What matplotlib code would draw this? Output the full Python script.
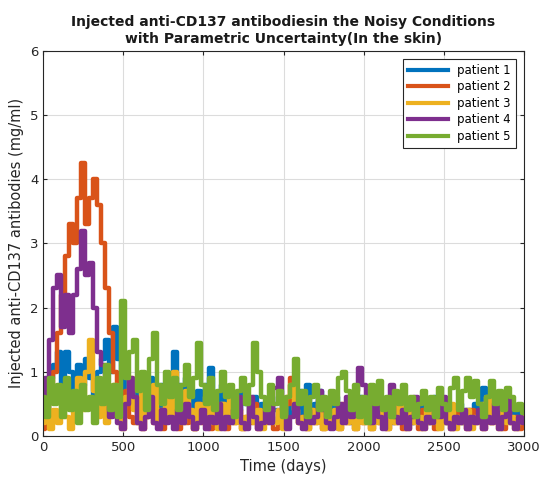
import numpy as np
import matplotlib.pyplot as plt

# sample grid (days) and per-patient concentrations (mg/ml)
days = np.arange(0, 3001, 25)

patient1 = [0.5, 0.3, 0.9, 1.1, 1.3, 0.8, 1.3, 1.0, 0.7, 1.1, 0.8, 1.2, 0.9, 0.6, 1.0, 1.2, 1.5, 1.0, 1.7, 1.2,
            0.7, 0.9, 0.5, 0.8, 0.4, 0.7, 0.5, 0.9, 0.6, 0.4, 0.8, 0.5, 0.7, 1.3, 0.8, 0.5, 0.9, 0.6, 0.4, 0.7,
            0.5, 0.8, 1.05, 0.6, 0.4, 0.8, 0.5, 0.3, 0.6, 0.4, 0.7, 0.5, 0.3, 0.6, 0.4, 0.5, 0.3, 0.6, 0.4, 0.2,
            0.5, 0.3, 0.6, 0.4, 0.7, 0.3, 0.8, 0.4, 0.5, 0.7, 0.3, 0.5, 0.2, 0.6, 0.4, 0.3, 0.5, 0.2, 0.4, 0.6,
            0.3, 0.4, 0.2, 0.7, 0.4, 0.3, 0.5, 0.2, 0.4, 0.6, 0.3, 0.5, 0.2, 0.4, 0.5, 0.3, 0.2, 0.4, 0.6, 0.3,
            0.5, 0.2, 0.4, 0.3, 0.5, 0.2, 0.4, 0.3, 0.5, 0.3, 0.75, 0.4, 0.3, 0.5, 0.2, 0.4, 0.3, 0.5, 0.2, 0.4,
            0.3]
patient2 = [0.1, 0.3, 0.6, 1.0, 1.6, 2.2, 2.8, 3.3, 3.0, 3.7, 4.25, 3.3, 3.7, 4.0, 3.6, 3.0, 2.3, 1.6, 1.0, 0.6,
            0.4, 0.7, 0.3, 0.2, 0.5, 0.1, 0.3, 0.6, 0.2, 0.4, 0.1, 0.3, 0.5, 0.2, 0.1, 0.4, 0.2, 0.3, 0.1, 0.5,
            0.2, 0.4, 0.1, 0.3, 0.2, 0.5, 0.1, 0.3, 0.2, 0.4, 0.1, 0.3, 0.2, 0.5, 0.1, 0.3, 0.2, 0.4, 0.1, 0.3,
            0.2, 0.5, 0.9, 0.4, 0.2, 0.3, 0.1, 0.4, 0.2, 0.3, 0.1, 0.4, 0.2, 0.3, 0.1, 0.5, 0.2, 0.3, 0.1, 0.4,
            0.2, 0.3, 0.1, 0.4, 0.2, 0.3, 0.1, 0.4, 0.2, 0.3, 0.1, 0.4, 0.2, 0.3, 0.1, 0.4, 0.2, 0.3, 0.1, 0.4,
            0.2, 0.3, 0.1, 0.4, 0.2, 0.3, 0.1, 0.4, 0.2, 0.3, 0.1, 0.4, 0.2, 0.6, 0.3, 0.1, 0.4, 0.2, 0.3, 0.1,
            0.2]
patient3 = [0.2, 0.5, 0.1, 0.4, 0.2, 0.6, 0.3, 0.1, 0.5, 0.9, 0.4, 1.0, 1.5, 0.7, 0.3, 0.6, 0.2, 0.5, 0.8, 0.3,
            0.1, 0.6, 0.9, 0.4, 0.2, 0.7, 0.3, 0.5, 0.8, 0.2, 0.4, 0.6, 0.3, 1.0, 0.5, 0.2, 0.7, 0.4, 0.1, 0.5,
            0.3, 0.6, 0.2, 0.4, 0.1, 0.5, 0.3, 0.6, 0.2, 0.4, 0.1, 0.3, 0.5, 0.2, 0.4, 0.1, 0.3, 0.5, 0.2, 0.4,
            0.1, 0.6, 0.8, 0.4, 0.2, 0.3, 0.1, 0.4, 0.2, 0.5, 0.1, 0.3, 0.2, 0.4, 0.1, 0.3, 0.2, 0.5, 0.1, 0.3,
            0.2, 0.4, 0.1, 0.3, 0.2, 0.5, 0.1, 0.3, 0.2, 0.6, 0.3, 0.1, 0.4, 0.2, 0.3, 0.1, 0.4, 0.2, 0.3, 0.1,
            0.4, 0.2, 0.5, 0.1, 0.3, 0.2, 0.4, 0.1, 0.3, 0.2, 0.5, 0.6, 0.2, 0.3, 0.1, 0.4, 0.2, 0.3, 0.1, 0.2,
            0.3]
patient4 = [0.5, 0.9, 1.5, 2.3, 2.5, 1.7, 2.2, 1.6, 2.2, 2.6, 3.2, 2.5, 2.7, 2.0, 1.3, 1.1, 0.6, 0.3, 0.4, 0.2,
            0.1, 0.5, 0.9, 0.6, 0.2, 0.1, 0.3, 0.6, 0.2, 0.1, 0.4, 0.2, 0.3, 0.1, 0.4, 0.2, 0.5, 0.3, 0.1, 0.2,
            0.4, 0.1, 0.3, 0.2, 0.5, 0.1, 0.3, 0.2, 0.4, 0.6, 0.2, 0.1, 0.6, 0.3, 0.1, 0.2, 0.4, 0.2, 0.75, 0.9,
            0.4, 0.1, 0.3, 0.5, 0.2, 0.1, 0.4, 0.2, 0.3, 0.7, 0.4, 0.2, 0.1, 0.3, 0.5, 0.2, 0.6, 0.3, 0.7, 1.05,
            0.8, 0.3, 0.2, 0.5, 0.3, 0.1, 0.4, 0.8, 0.3, 0.2, 0.4, 0.1, 0.3, 0.6, 0.2, 0.1, 0.3, 0.2, 0.5, 0.3,
            0.6, 0.2, 0.1, 0.3, 0.2, 0.4, 0.1, 0.3, 0.2, 0.4, 0.1, 0.3, 0.2, 0.5, 0.1, 0.3, 0.6, 0.2, 0.1, 0.3,
            0.2]
patient5 = [0.6, 0.3, 0.9, 0.5, 0.8, 0.3, 0.9, 0.4, 0.7, 0.2, 0.8, 0.4, 0.6, 0.2, 0.9, 0.5, 1.1, 0.4, 0.8, 0.3,
            2.1, 0.9, 1.3, 1.5, 0.7, 1.0, 0.4, 1.2, 1.6, 0.8, 0.5, 1.0, 0.6, 0.9, 0.4, 0.8, 1.1, 0.6, 0.9, 1.45,
            0.8, 0.5, 0.9, 0.4, 0.7, 1.0, 0.6, 0.8, 0.3, 0.7, 0.9, 0.5, 0.8, 1.45, 1.0, 0.6, 0.4, 0.8, 0.5, 0.7,
            0.3, 0.6, 0.8, 1.2, 0.5, 0.7, 0.3, 0.6, 0.8, 0.4, 0.6, 0.3, 0.7, 0.5, 0.9, 1.0, 0.7, 0.4, 0.8, 0.3,
            0.6, 0.2, 0.8, 0.5, 0.85, 0.4, 0.6, 0.3, 0.7, 0.5, 0.8, 0.4, 0.6, 0.3, 0.5, 0.7, 0.4, 0.6, 0.3, 0.75,
            0.5, 0.4, 0.75, 0.9, 0.4, 0.7, 0.9, 0.6, 0.85, 0.5, 0.3, 0.6, 0.85, 0.5, 0.7, 0.4, 0.75, 0.6, 0.4, 0.5,
            0.35]

labels = ["patient 1", "patient 2", "patient 3", "patient 4", "patient 5"]
colors = ["#0072BD", "#D95319", "#EDB120", "#7E2F8E", "#77AC30"]
series = [patient1, patient2, patient3, patient4, patient5]

fig = plt.figure(figsize=(5.39, 4.8), dpi=100)
ax = fig.add_axes([0.08, 0.092, 0.892, 0.802])

for y, c, lab in zip(series, colors, labels):
    ax.plot(days, y, color=c, lw=3.2, label=lab, drawstyle="steps-mid")

ax.set_xlim(0, 3000)
ax.set_ylim(0, 6)
ax.set_xticks(range(0, 3001, 500))
ax.set_yticks(range(0, 7))
ax.grid(True, color="#dcdcdc", lw=0.8)
ax.set_axisbelow(True)
ax.tick_params(direction="in", labelsize=9.5, colors="#262626", length=3, top=True, right=True,
               labeltop=False, labelright=False)
for s in ax.spines.values():
    s.set_color("#262626")
    s.set_linewidth(0.8)

ax.set_xlabel("Time (days)", fontsize=10.5, color="#262626")
ax.set_ylabel("Injected anti-CD137 antibodies (mg/ml)", fontsize=10.5, color="#262626")
ax.set_title("Injected anti-CD137 antibodiesin the Noisy Conditions\nwith Parametric Uncertainty(In the skin)",
             fontsize=10, fontweight="bold", color="#1a1a1a", pad=6)

leg = ax.legend(loc="upper right", fontsize=8.5, fancybox=False, framealpha=1,
                edgecolor="#262626", handlelength=3.4, borderaxespad=0.7, labelspacing=0.3)
leg.get_frame().set_linewidth(0.8)
for h in leg.get_lines():
    h.set_linewidth(3)

fig.savefig("out.png", dpi=100)
